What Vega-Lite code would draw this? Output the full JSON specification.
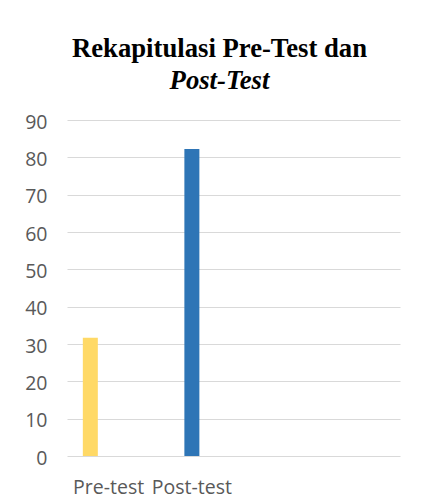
{
  "$schema": "https://vega.github.io/schema/vega-lite/v6.json",
  "width": 333,
  "height": 336,
  "autosize": "none",
  "padding": {"left": 67, "top": 120, "right": 21, "bottom": 46},
  "background": "#ffffff",
  "title": {
    "text": "Rekapitulasi Pre-Test dan",
    "subtitle": "Post-Test",
    "font": "Liberation Serif",
    "fontSize": 26.7,
    "fontWeight": "bold",
    "color": "#000000",
    "subtitleFont": "Liberation Serif",
    "subtitleFontSize": 26.7,
    "subtitleFontWeight": "bold",
    "subtitleFontStyle": "italic",
    "subtitleColor": "#000000",
    "subtitlePadding": 6,
    "anchor": "middle",
    "frame": "group",
    "dx": -14,
    "offset": 17
  },
  "data": {
    "values": [
      {"kategori": "Pre-test", "seri": "Pre-test", "nilai": 31.7},
      {"kategori": "Post-test", "seri": "Post-test", "nilai": 82.2}
    ]
  },
  "mark": {"type": "bar", "width": 15},
  "encoding": {
    "x": {
      "field": "kategori",
      "type": "nominal",
      "scale": {"domain": ["Pre-test", "Post-test", "k3", "k4"], "paddingInner": 0, "paddingOuter": 0},
      "axis": {
        "title": null,
        "labelAngle": 0,
        "labelExpr": "datum.value == 'k3' || datum.value == 'k4' ? '' : datum.label",
        "domain": false,
        "ticks": false,
        "tickSize": 0,
        "labelPadding": 22,
        "labelFont": "Open Sans",
        "labelFontSize": 19.5,
        "labelColor": "#595959",
        "grid": false
      }
    },
    "xOffset": {
      "field": "seri",
      "type": "nominal",
      "scale": {"domain": ["Pre-test", "Post-test", "s3"], "paddingInner": 0.18, "paddingOuter": 0.865}
    },
    "y": {
      "field": "nilai",
      "type": "quantitative",
      "scale": {"domain": [0, 90], "nice": false},
      "axis": {
        "title": null,
        "values": [0, 10, 20, 30, 40, 50, 60, 70, 80, 90],
        "domain": false,
        "ticks": false,
        "tickSize": 0,
        "labelPadding": 20,
        "labelOffset": 2,
        "labelFont": "Open Sans",
        "labelFontSize": 19.5,
        "labelColor": "#595959",
        "gridColor": "#D9D9D9",
        "gridWidth": 1
      }
    },
    "color": {
      "field": "seri",
      "type": "nominal",
      "scale": {"domain": ["Pre-test", "Post-test"], "range": ["#FFD966", "#2E75B6"]},
      "legend": null
    }
  },
  "config": {"view": {"stroke": null}}
}
